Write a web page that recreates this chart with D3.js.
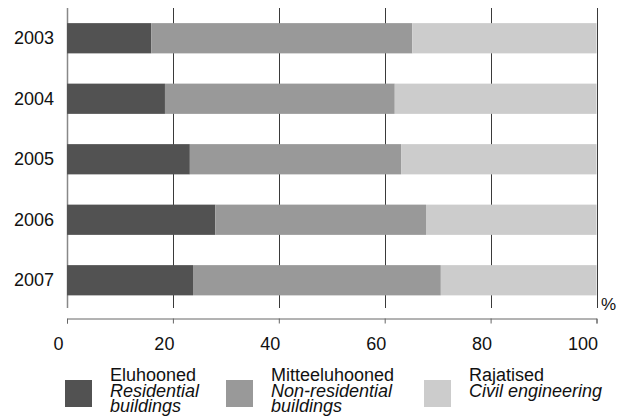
<!DOCTYPE html>
<html><head><meta charset="utf-8">
<script src="https://cdn.jsdelivr.net/npm/d3@7"></script>
<style>body{margin:0;background:#fff}svg{display:block;font-family:"Liberation Sans",Arial,sans-serif}</style>
</head><body>
<svg id="c" width="618" height="419"></svg>
<script>
const years = ["2003","2004","2005","2006","2007"];
const residential = [15.9, 18.5, 23.2, 28.0, 23.8];
const nonResidential = [49.3, 43.4, 39.9, 39.8, 46.8];
const civil = [34.8, 38.1, 36.9, 32.2, 29.4];
const xTicks = [0, 20, 40, 60, 80, 100];
const seriesKeys = ["res","nonres","civil"];
const seriesColors = ["#525252","#999999","#cccccc"];
const legendEt = ["Eluhooned","Mitteeluhooned","Rajatised"];
const legendEn = [["Residential","buildings"],["Non-residential","buildings"],["Civil engineering"]];

const rows = years.map((y,i)=>({year:y, res:residential[i], nonres:nonResidential[i], civil:civil[i]}));
const stacked = d3.stack().keys(seriesKeys)(rows);

const svg = d3.select("#c");
const x = d3.scaleLinear().domain([0,100]).range([67,596.5]);
const y = d3.scaleBand().domain(years).range([8,310.5]).paddingInner(0.5).paddingOuter(0.25);

// gridlines
svg.append("g").selectAll("line").data(xTicks.slice(1)).join("line")
  .attr("x1",d=>Math.round(x(d))+0.5).attr("x2",d=>Math.round(x(d))+0.5)
  .attr("y1",8).attr("y2",308).attr("stroke","#3a3a3a").attr("stroke-width",1);
svg.append("line").attr("x1",67.5).attr("x2",67.5).attr("y1",8).attr("y2",308)
  .attr("stroke","#888").attr("stroke-width",1.5);

// bars
svg.append("g").selectAll("g").data(stacked).join("g")
  .attr("fill",(d,i)=>seriesColors[i])
  .selectAll("rect").data(d=>d).join("rect")
  .attr("x",d=>x(d[0])).attr("width",d=>x(d[1])-x(d[0]))
  .attr("y",d=>y(d.data.year)).attr("height",y.bandwidth());

// y labels
svg.append("g").selectAll("text").data(years).join("text")
  .attr("x",54).attr("y",d=>y(d)+y.bandwidth()/2+6)
  .attr("text-anchor","end").attr("font-size",18).attr("fill","#111").text(d=>d);

// x axis
const xAxis = d3.axisBottom(x).tickValues(xTicks).tickSize(5).tickSizeOuter(5).tickPadding(14);
const ag = svg.append("g").attr("transform","translate(0,318.5)").call(xAxis);
ag.select(".domain").attr("stroke","#666");
ag.selectAll(".tick line").attr("stroke","#666");
ag.selectAll(".tick text").attr("font-size",18).attr("fill","#111")
  .attr("text-anchor","end").attr("font-family","Liberation Sans, Arial, sans-serif")
  .attr("dx",d=>d===0?"-4":"1");

svg.append("text").attr("x",601).attr("y",310).attr("font-size",17).attr("fill","#111").text("%");

// legend
const legX = [65, 226, 424];
const lg = svg.append("g").selectAll("g").data(legendEt).join("g")
  .attr("transform",(d,i)=>`translate(${legX[i]},380)`);
lg.append("rect").attr("width",27).attr("height",27).attr("fill",(d,i)=>seriesColors[i]);
lg.append("text").attr("x",45).attr("y",1).attr("font-size",18).attr("fill","#111").text(d=>d);
lg.each(function(d,i){
  const g = d3.select(this);
  legendEn[i].forEach((t,j)=>{
    g.append("text").attr("x",45).attr("y",16.5+15.3*j).attr("font-size",18)
     .attr("font-style","italic").attr("fill","#111").text(t);
  });
});
</script>
</body></html>
